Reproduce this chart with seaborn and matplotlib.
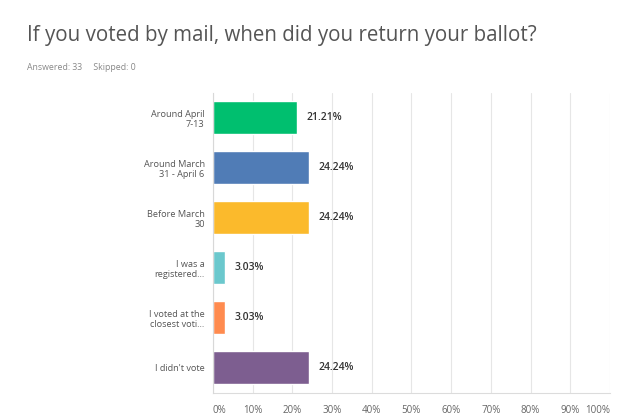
import matplotlib
matplotlib.use("Agg")
import matplotlib.pyplot as plt
import seaborn as sns
import pandas as pd

# survey answers
categories = ["Around April\n7-13", "Around March\n31 - April 6", "Before March\n30",
              "I was a\nregistered...", "I voted at the\nclosest voti...", "I didn't vote"]
percents = [21.21, 24.24, 24.24, 3.03, 3.03, 24.24]
colors = ["#00BF6F", "#507CB6", "#FBBA2C", "#6BC8CD", "#FF8B4F", "#7D5E90"]
xticks = [0, 10, 20, 30, 40, 50, 60, 70, 80, 90, 100]

df = pd.DataFrame({"answer": categories, "pct": percents})

sns.set_style("white")
plt.rcParams["font.family"] = ["Open Sans", "DejaVu Sans"]

fig = plt.figure(figsize=(6.22, 4.19), dpi=100)
ax = fig.add_axes([0.3424, 0.0632, 0.6383, 0.716])

sns.barplot(data=df, x="pct", y="answer", hue="answer", palette=colors,
            width=0.66, legend=False, ax=ax, saturation=1, zorder=3)

ax.set_xlim(0, 100)
ax.set_ylim(5.5, -0.5)
ax.set_xticks(xticks)
ax.set_xticklabels([f"{t}%" for t in xticks], fontsize=7, color="#666666")
labs = ax.get_xticklabels()
labs[0].set_ha("left")
labs[-1].set_ha("right")
ax.tick_params(axis="x", length=0, pad=9)
ax.tick_params(axis="y", length=0, pad=6, labelsize=6.6, labelcolor="#555555")
ax.set_xlabel("")
ax.set_ylabel("")
ax.grid(axis="x", color="#e6e6e6", linewidth=0.8, zorder=0)
for s in ["top", "right"]:
    ax.spines[s].set_visible(False)
ax.spines["left"].set_color("#d8d8d8")
ax.spines["bottom"].set_color("#dcdcdc")
ax.spines["left"].set_zorder(4)

# value labels next to bars
for i, v in enumerate(percents):
    ax.annotate(f"{v:.2f}%", (v, i), xytext=(7, 0), textcoords="offset points",
                va="center", ha="left", fontsize=7.5, fontweight="semibold", color="#333333")

fig.text(27 / 622, 1 - 36 / 419, "If you voted by mail, when did you return your ballot?",
         fontsize=14.8, color="#555555", va="center", ha="left")
fig.text(27 / 622, 1 - 67 / 419, "Answered: 33     Skipped: 0",
         fontsize=6.3, color="#888888", va="center", ha="left")

fig.savefig("out.png", dpi=100)
